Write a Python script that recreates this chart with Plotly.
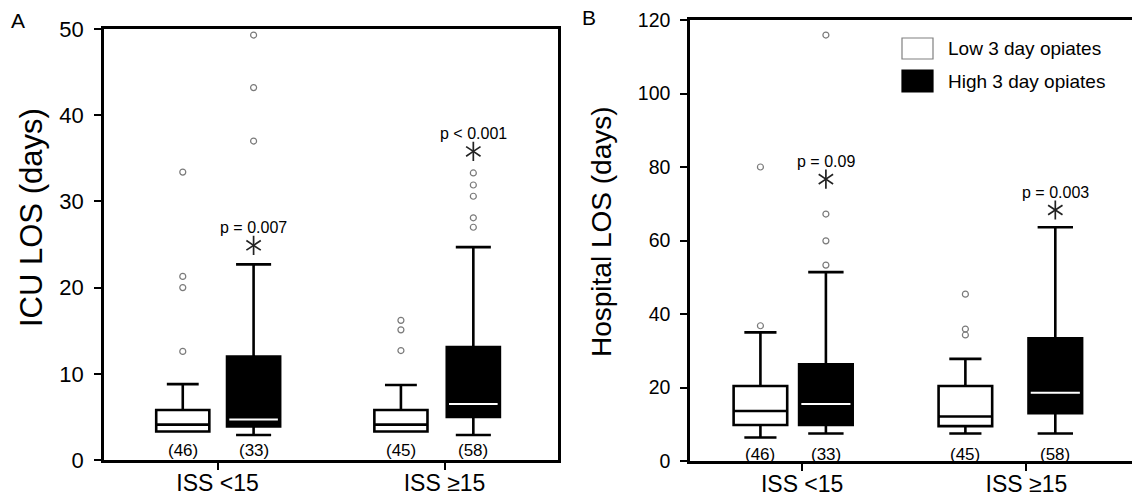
import plotly.graph_objects as go

# ---------------- data ----------------
groups = ["ISS <15", "ISS \u226515"]

# box stats per group: [lower whisker, q1, median, q3, upper whisker]
icu_low_box = [[3.3, 3.3, 4.1, 5.8, 8.8], [3.3, 3.3, 4.1, 5.8, 8.7]]
icu_high_box = [[2.9, 3.9, 4.7, 12.0, 22.7], [2.9, 5.0, 6.5, 13.1, 24.7]]
icu_low_out = [[12.6, 20.0, 21.3, 33.4], [12.7, 15.1, 16.2]]
icu_high_out = [[37.0, 43.2, 49.3], [27.0, 28.1, 30.6, 31.9, 33.3]]
icu_n_low = [46, 45]
icu_n_high = [33, 58]
icu_p = ["p = 0.007", "p < 0.001"]

hosp_low_box = [[6.4, 9.8, 13.6, 20.4, 35.0], [7.5, 9.5, 12.1, 20.4, 27.8]]
hosp_high_box = [[7.5, 9.8, 15.5, 26.3, 51.4], [7.5, 13.0, 18.6, 33.4, 63.6]]
hosp_low_out = [[36.8, 80.0], [34.3, 35.9, 45.4]]
hosp_high_out = [[53.3, 59.9, 67.2, 115.9], []]
hosp_n_low = [46, 45]
hosp_n_high = [33, 58]
hosp_p = ["p = 0.09", "p = 0.003"]

series_names = ["Low 3 day opiates", "High 3 day opiates"]

# ---------------- layout helpers ----------------
W, H = 1132, 497
FONT = "Liberation Sans, Arial, sans-serif"


def px(xp):
    return xp / W


def py(yp):
    return 1 - yp / H


panels = [
    dict(xa="x", ya="y", low=icu_low_box, high=icu_high_box, low_out=icu_low_out,
         high_out=icu_high_out, n_low=icu_n_low, n_high=icu_n_high, p=icu_p,
         pos_low=[-0.153, 0.808], pos_high=[0.159, 1.127], width=0.234,
         star_y=[24.9, 35.8], n_y=1.1),
    dict(xa="x2", ya="y2", low=hosp_low_box, high=hosp_high_box, low_out=hosp_low_out,
         high_out=hosp_high_out, n_low=hosp_n_low, n_high=hosp_n_high, p=hosp_p,
         pos_low=[-0.186, 0.728], pos_high=[0.106, 1.129], width=0.239,
         star_y=[76.7, 68.3], n_y=1.7),
]

fig = go.Figure()
annotations = []


def col(box, i):
    return [b[i] for b in box]


for pn in panels:
    xa, ya = pn["xa"], pn["ya"]
    xr = "x" if xa == "x" else "x2"
    yr = "y" if ya == "y" else "y2"
    # white (low) boxes
    fig.add_trace(go.Box(
        x=pn["pos_low"], lowerfence=col(pn["low"], 0), q1=col(pn["low"], 1),
        median=col(pn["low"], 2), q3=col(pn["low"], 3), upperfence=col(pn["low"], 4),
        width=pn["width"], fillcolor="white", line=dict(color="black", width=2.6),
        whiskerwidth=0.6, boxpoints=False, showlegend=False, xaxis=xa, yaxis=ya,
        name=series_names[0], hoverinfo="skip"))
    # black (high) boxes
    fig.add_trace(go.Box(
        x=pn["pos_high"], lowerfence=col(pn["high"], 0), q1=col(pn["high"], 1),
        median=col(pn["high"], 2), q3=col(pn["high"], 3), upperfence=col(pn["high"], 4),
        width=pn["width"], fillcolor="black", line=dict(color="black", width=2.6),
        whiskerwidth=0.66, boxpoints=False, showlegend=False, xaxis=xa, yaxis=ya,
        name=series_names[1], hoverinfo="skip"))
    # white median line on black boxes
    med = col(pn["high"], 2)
    fig.add_trace(go.Box(
        x=pn["pos_high"], lowerfence=med, q1=med, median=med, q3=med, upperfence=med,
        width=pn["width"] - 0.02, fillcolor="white", line=dict(color="white", width=2),
        whiskerwidth=0.1, boxpoints=False, showlegend=False, xaxis=xa, yaxis=ya,
        hoverinfo="skip"))
    # outliers
    for pos_list, outs in ((pn["pos_low"], pn["low_out"]), (pn["pos_high"], pn["high_out"])):
        xs, ys = [], []
        for pos, vals in zip(pos_list, outs):
            xs += [pos] * len(vals)
            ys += vals
        fig.add_trace(go.Scatter(
            x=xs, y=ys, mode="markers", xaxis=xa, yaxis=ya, showlegend=False,
            marker=dict(symbol="circle-open", size=6, color="#7a7a7a", line=dict(width=1.2)),
            hoverinfo="skip"))
    # asterisks (6-armed: y-up + y-down)
    for sym in ("y-up-open", "y-down-open"):
        fig.add_trace(go.Scatter(
            x=pn["pos_high"], y=pn["star_y"], mode="markers", xaxis=xa, yaxis=ya,
            showlegend=False, hoverinfo="skip",
            marker=dict(symbol=sym, size=12, color="#222", line=dict(width=1.7, color="#222"))))
    # p values
    for pos, sy, ptxt in zip(pn["pos_high"], pn["star_y"], pn["p"]):
        annotations.append(dict(x=pos, y=sy, xref=xr, yref=yr, text=ptxt, showarrow=False,
                                yshift=18, font=dict(size=16, family=FONT, color="black")))
    # n labels
    for pos_list, ns in ((pn["pos_low"], pn["n_low"]), (pn["pos_high"], pn["n_high"])):
        for pos, n in zip(pos_list, ns):
            annotations.append(dict(x=pos, y=pn["n_y"], xref=xr, yref=yr, text=f"({n})",
                                    showarrow=False, yanchor="middle",
                                    font=dict(size=17, family=FONT, color="black")))

# axis titles
annotations.append(dict(x=px(31), y=py(218), xref="paper", yref="paper", text="ICU LOS (days)",
                        textangle=-90, showarrow=False, xanchor="center", yanchor="middle",
                        font=dict(size=31, family=FONT, color="black")))
annotations.append(dict(x=px(602), y=py(232), xref="paper", yref="paper",
                        text="Hospital LOS (days)", textangle=-90, showarrow=False,
                        xanchor="center", yanchor="middle",
                        font=dict(size=28, family=FONT, color="black")))
# panel letters
annotations.append(dict(x=px(18), y=py(20), xref="paper", yref="paper", text="A",
                        showarrow=False, xanchor="center", yanchor="middle",
                        font=dict(size=21, family=FONT, color="black")))
annotations.append(dict(x=px(589), y=py(17), xref="paper", yref="paper", text="B",
                        showarrow=False, xanchor="center", yanchor="middle",
                        font=dict(size=21, family=FONT, color="black")))
# legend
shapes = [
    dict(type="rect", xref="paper", yref="paper", x0=px(902), x1=px(933), y0=py(59), y1=py(38),
         fillcolor="white", line=dict(color="#808080", width=1.2)),
    dict(type="rect", xref="paper", yref="paper", x0=px(902), x1=px(933), y0=py(92), y1=py(70),
         fillcolor="black", line=dict(color="black", width=1.2)),
]
for name, yc in zip(series_names, (48.5, 81)):
    annotations.append(dict(x=px(946), y=py(yc), xref="paper", yref="paper", text=name,
                            showarrow=False, xanchor="left", yanchor="middle",
                            font=dict(size=19, family=FONT, color="black")))

axis_common = dict(showline=True, linecolor="black", linewidth=2.5, showgrid=False,
                   zeroline=False, ticks="outside", tickcolor="black", tickwidth=2,
                   ticklen=7, automargin=False)

fig.update_layout(
    width=W, height=H, margin=dict(l=0, r=0, t=0, b=0),
    paper_bgcolor="white", plot_bgcolor="white", showlegend=False,
    font=dict(family=FONT, color="black"),
    xaxis=dict(axis_common, domain=[px(104), px(558)], range=[-0.5, 1.5], tickvals=[0, 1],
               ticktext=groups, mirror=True, anchor="y", tickfont=dict(size=23),
               ticklabelstandoff=-6),
    yaxis=dict(axis_common, domain=[py(460), py(29)], range=[0, 50], tickvals=[0, 10, 20, 30, 40, 50],
               mirror=True, anchor="x", tickfont=dict(size=22), ticklabelstandoff=6),
    xaxis2=dict(axis_common, domain=[px(690), 1.0], range=[-0.5, 1.471], tickvals=[0, 1],
                ticktext=groups, mirror=True, anchor="y2", tickfont=dict(size=23),
                ticklabelstandoff=-6),
    yaxis2=dict(axis_common, domain=[py(461), py(20)], range=[0, 120],
                tickvals=[0, 20, 40, 60, 80, 100, 120], mirror=False, anchor="x2",
                tickfont=dict(size=19.5), ticklabelstandoff=6),
    annotations=annotations, shapes=shapes,
)

fig.write_html("out.html")
